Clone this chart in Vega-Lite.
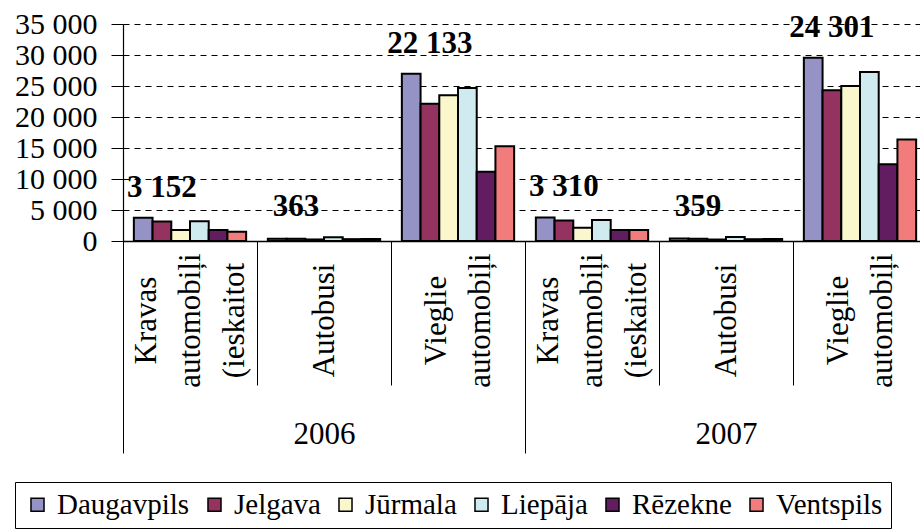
{
  "$schema": "https://vega.github.io/schema/vega-lite/v6.json",
  "width": 797,
  "height": 217,
  "autosize": {"type": "none"},
  "padding": {"left": 123, "top": 24, "right": 0, "bottom": 291},
  "config": {
    "view": {"stroke": null},
    "font": "Liberation Serif",
    "locale": {"number": {"decimal": ",", "thousands": " ", "grouping": [3], "currency": ["", ""]}},
    "axisY": {
      "title": null, "values": [0, 5000, 10000, 15000, 20000, 25000, 30000, 35000],
      "format": ",d", "labelFont": "Liberation Serif", "labelFontSize": 30, "labelColor": "#000",
      "labelOverlap": false, "labelBound": false,
      "tickSize": 12, "tickColor": "#000", "labelPadding": 14,
      "domainColor": "#000", "domainWidth": 1.2,
      "grid": true, "gridColor": "#000", "gridDash": [6, 5], "gridWidth": 1
    }
  },
  "data": {
    "values": [
      {"year": "2006", "cat": "Kravas automobiļi (ieskaitot", "city": "Daugavpils", "value": 3750},
      {"year": "2006", "cat": "Kravas automobiļi (ieskaitot", "city": "Jelgava", "value": 3152},
      {"year": "2006", "cat": "Kravas automobiļi (ieskaitot", "city": "Jūrmala", "value": 1770},
      {"year": "2006", "cat": "Kravas automobiļi (ieskaitot", "city": "Liepāja", "value": 3170},
      {"year": "2006", "cat": "Kravas automobiļi (ieskaitot", "city": "Rēzekne", "value": 1770},
      {"year": "2006", "cat": "Kravas automobiļi (ieskaitot", "city": "Ventspils", "value": 1500},
      {"year": "2006", "cat": "Autobusi", "city": "Daugavpils", "value": 380},
      {"year": "2006", "cat": "Autobusi", "city": "Jelgava", "value": 363},
      {"year": "2006", "cat": "Autobusi", "city": "Jūrmala", "value": 250},
      {"year": "2006", "cat": "Autobusi", "city": "Liepāja", "value": 620},
      {"year": "2006", "cat": "Autobusi", "city": "Rēzekne", "value": 300},
      {"year": "2006", "cat": "Autobusi", "city": "Ventspils", "value": 330},
      {"year": "2006", "cat": "Vieglie automobiļi", "city": "Daugavpils", "value": 26990},
      {"year": "2006", "cat": "Vieglie automobiļi", "city": "Jelgava", "value": 22133},
      {"year": "2006", "cat": "Vieglie automobiļi", "city": "Jūrmala", "value": 23500},
      {"year": "2006", "cat": "Vieglie automobiļi", "city": "Liepāja", "value": 24670},
      {"year": "2006", "cat": "Vieglie automobiļi", "city": "Rēzekne", "value": 11150},
      {"year": "2006", "cat": "Vieglie automobiļi", "city": "Ventspils", "value": 15290},
      {"year": "2007", "cat": "Kravas automobiļi (ieskaitot", "city": "Daugavpils", "value": 3810},
      {"year": "2007", "cat": "Kravas automobiļi (ieskaitot", "city": "Jelgava", "value": 3310},
      {"year": "2007", "cat": "Kravas automobiļi (ieskaitot", "city": "Jūrmala", "value": 2140},
      {"year": "2007", "cat": "Kravas automobiļi (ieskaitot", "city": "Liepāja", "value": 3380},
      {"year": "2007", "cat": "Kravas automobiļi (ieskaitot", "city": "Rēzekne", "value": 1770},
      {"year": "2007", "cat": "Kravas automobiļi (ieskaitot", "city": "Ventspils", "value": 1770},
      {"year": "2007", "cat": "Autobusi", "city": "Daugavpils", "value": 390},
      {"year": "2007", "cat": "Autobusi", "city": "Jelgava", "value": 359},
      {"year": "2007", "cat": "Autobusi", "city": "Jūrmala", "value": 240},
      {"year": "2007", "cat": "Autobusi", "city": "Liepāja", "value": 640},
      {"year": "2007", "cat": "Autobusi", "city": "Rēzekne", "value": 290},
      {"year": "2007", "cat": "Autobusi", "city": "Ventspils", "value": 320},
      {"year": "2007", "cat": "Vieglie automobiļi", "city": "Daugavpils", "value": 29560},
      {"year": "2007", "cat": "Vieglie automobiļi", "city": "Jelgava", "value": 24301},
      {"year": "2007", "cat": "Vieglie automobiļi", "city": "Jūrmala", "value": 24990},
      {"year": "2007", "cat": "Vieglie automobiļi", "city": "Liepāja", "value": 27250},
      {"year": "2007", "cat": "Vieglie automobiļi", "city": "Rēzekne", "value": 12390},
      {"year": "2007", "cat": "Vieglie automobiļi", "city": "Ventspils", "value": 16370}
    ]
  },
  "transform": [{"calculate": "datum.year + '|' + datum.cat", "as": "grp"}],
  "layer": [
    {
      "layer": [
        {
          "mark": {"type": "bar", "stroke": "#000", "strokeWidth": 2},
          "encoding": {
            "x": {
              "field": "grp", "type": "nominal", "sort": null,
              "scale": {"rangeMax": 804, "paddingInner": 0, "paddingOuter": 0},
              "axis": {
                "title": null, "orient": "bottom",
                "domainColor": "#000", "domainWidth": 1.5,
                "tickBand": "extent", "tickSize": 144, "tickColor": "#000", "tickWidth": 1,
                "labelExpr": "length(split(substring(datum.label, 5), ' ')) === 3 ? [split(substring(datum.label, 5), ' ')[0], '\u2800', split(substring(datum.label, 5), ' ')[1], '\u2800', split(substring(datum.label, 5), ' ')[2]] : length(split(substring(datum.label, 5), ' ')) === 2 ? ['\u2800', split(substring(datum.label, 5), ' ')[0], '\u2800', split(substring(datum.label, 5), ' ')[1]] : ['\u2800', '\u2800', substring(datum.label, 5)]",
                "labelAngle": 270, "labelAlign": "center", "labelBaseline": "middle",
                "labelOffset": -44,
                "labelPadding": -65, "labelFont": "Liberation Serif", "labelFontSize": 31,
                "labelColor": "#000", "labelLineHeight": 22, "labelLimit": 0,
                "labelOverlap": false, "labelBound": false
              }
            },
            "xOffset": {
              "field": "city", "type": "nominal",
              "scale": {"domain": ["Daugavpils", "Jelgava", "Jūrmala", "Liepāja", "Rēzekne", "Ventspils"], "paddingInner": 0, "paddingOuter": 0.58}
            },
            "y": {
              "field": "value", "type": "quantitative",
              "scale": {"domain": [0, 35000]}
            },
            "color": {
              "field": "city", "type": "nominal",
              "scale": {
                "domain": ["Daugavpils", "Jelgava", "Jūrmala", "Liepāja", "Rēzekne", "Ventspils"],
                "range": ["#9593C6", "#943360", "#FAF7CC", "#D0EBEF", "#621C60", "#F27C7C"]
              },
              "legend": {
                "title": null, "orient": "none", "legendX": -108, "legendY": 458,
                "direction": "horizontal", "symbolType": "square", "symbolSize": 170,
                "symbolStrokeColor": "#000", "symbolStrokeWidth": 1.5,
                "labelFont": "Liberation Serif", "labelFontSize": 29, "labelColor": "#000",
                "labelLimit": 0, "labelOffset": 5, "columnPadding": 10,
                "strokeColor": "#000", "padding": 8, "fillColor": "#fff"
              }
            }
          }
        },
        {
          "transform": [
            {"joinaggregate": [{"op": "max", "field": "value", "as": "gmax"}], "groupby": ["grp"]},
            {"filter": "datum.city === 'Jelgava'"}
          ],
          "mark": {"type": "text", "dy": -30, "fontWeight": "bold", "font": "Liberation Serif", "fontSize": 31, "baseline": "middle", "color": "#000"},
          "encoding": {
            "x": {"field": "grp", "type": "nominal", "sort": null},
            "xOffset": {"field": "city", "type": "nominal"},
            "y": {"field": "gmax", "type": "quantitative"},
            "text": {"field": "value", "type": "quantitative", "format": ","}
          }
        }
      ]
    },
    {
      "transform": [{"filter": "datum.city === 'Jelgava'"}],
      "mark": {"type": "rule", "opacity": 0},
      "encoding": {
        "x": {
          "field": "year", "type": "nominal",
          "scale": {"rangeMax": 804, "paddingInner": 0, "paddingOuter": 0},
          "axis": {
            "title": null, "orient": "bottom", "domain": false,
            "tickBand": "extent", "tickSize": 212, "tickColor": "#000", "tickWidth": 1,
            "labelAngle": 0, "labelAlign": "center", "labelBaseline": "alphabetic",
            "labelPadding": -10, "labelFont": "Liberation Serif", "labelFontSize": 31, "labelColor": "#000"
          }
        }
      }
    }
  ],
  "resolve": {"scale": {"x": "independent"}}
}
